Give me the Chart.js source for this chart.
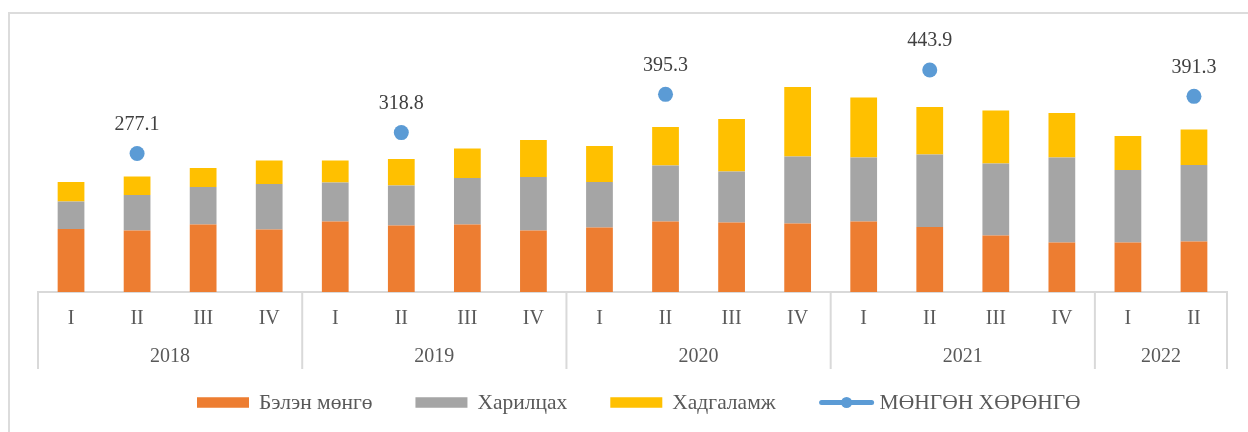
<!DOCTYPE html>
<html>
<head>
<meta charset="utf-8">
<script src="https://cdn.jsdelivr.net/npm/chart.js@4.4.0/dist/chart.umd.min.js"></script>
<style>
  html, body { margin: 0; padding: 0; background: #fff; }
  #wrap { position: relative; width: 1248px; height: 432px; overflow: hidden; }
  #frame { position: absolute; left: 8px; top: 12px; right: -4px; bottom: -4px;
           border-left: 2px solid #dcdcdc; border-top: 2px solid #dcdcdc; }
  canvas { position: absolute; left: 0; top: 0; }
</style>
</head>
<body>
<div id="wrap">
  <div id="frame"></div>
  <canvas id="chart" width="1248" height="432"></canvas>
</div>
<script>
// quarters, grouped by year
var quarters = ['I','II','III','IV', 'I','II','III','IV', 'I','II','III','IV', 'I','II','III','IV', 'I','II'];
var years = ['2018', '2019', '2020', '2021', '2022'];
var yearSpan = [4, 4, 4, 4, 2];

// values
var cash     = [126, 123, 135, 125, 141, 133, 135, 123, 129, 141, 139, 137, 141, 130, 113,  99,  99, 101];
var current  = [ 55,  71,  75,  91,  78,  80,  93, 107,  91, 112, 102, 134, 128, 145, 144, 170, 145, 153];
var savings  = [ 39,  37,  38,  47,  44,  53,  59,  74,  72,  77, 105, 139, 120,  95, 106,  89,  68,  71];
var moneySupply = [null, 277.1, null, null, null, 318.8, null, null, null, 395.3, null, null, null, 443.9, null, null, null, 391.3];

var seriesNames = ['Бэлэн мөнгө', 'Харилцах', 'Хадгаламж', 'МӨНГӨН ХӨРӨНГӨ'];

var FONT = '"Liberation Serif", "Times New Roman", serif';
var TEXT = '#595959';
var LINE = '#d9d9d9';

// year row + group separators under the quarter labels
var yearGroups = {
  id: 'yearGroups',
  afterDraw: function(chart) {
    var x = chart.scales.x, ctx = chart.ctx;
    var top = chart.chartArea.bottom;
    var half = (x.getPixelForValue(1) - x.getPixelForValue(0)) / 2;
    ctx.save();
    ctx.strokeStyle = LINE;
    ctx.lineWidth = 2;
    ctx.fillStyle = TEXT;
    ctx.font = '20px ' + FONT;
    ctx.textAlign = 'center';
    ctx.textBaseline = 'middle';
    var i = 0;
    years.forEach(function(y, k) {
      var l = x.getPixelForValue(i) - half;
      var r = x.getPixelForValue(i + yearSpan[k] - 1) + half;
      ctx.beginPath();
      ctx.moveTo(l, top); ctx.lineTo(l, 369);
      if (k === years.length - 1) { ctx.moveTo(r, top); ctx.lineTo(r, 369); }
      ctx.stroke();
      ctx.fillText(y, (l + r) / 2, 357);
      i += yearSpan[k];
    });
    ctx.restore();
  }
};

// value labels above the blue points
var pointLabels = {
  id: 'pointLabels',
  afterDatasetsDraw: function(chart) {
    var ctx = chart.ctx;
    var meta = chart.getDatasetMeta(3);
    ctx.save();
    ctx.fillStyle = '#404040';
    ctx.font = '20px ' + FONT;
    ctx.textAlign = 'center';
    ctx.textBaseline = 'middle';
    meta.data.forEach(function(pt, i) {
      var v = moneySupply[i];
      if (v === null) return;
      ctx.fillText(v.toFixed(1), pt.x, pt.y - 29);
    });
    ctx.restore();
  }
};

// legend drawn along the bottom
var bottomLegend = {
  id: 'bottomLegend',
  afterDraw: function(chart) {
    var ctx = chart.ctx;
    var cy = 402.5;
    var x = 197;
    ctx.save();
    ctx.font = '21.5px ' + FONT;
    ctx.textBaseline = 'middle';
    ctx.textAlign = 'left';
    chart.data.datasets.forEach(function(ds, k) {
      if (ds.type === 'line') {
        ctx.strokeStyle = ds.borderColor;
        ctx.lineWidth = 5;
        ctx.lineCap = 'round';
        ctx.beginPath();
        ctx.moveTo(x + 3, cy); ctx.lineTo(x + 53, cy);
        ctx.stroke();
        ctx.fillStyle = ds.backgroundColor;
        ctx.beginPath();
        ctx.arc(x + 28, cy, 5.5, 0, Math.PI * 2);
        ctx.fill();
        x += 56 + 5;
      } else {
        ctx.fillStyle = ds.backgroundColor;
        ctx.fillRect(x, cy - 5.25, 52, 10.5);
        x += 52 + 10;
      }
      ctx.fillStyle = TEXT;
      ctx.fillText(ds.label, x, cy + 1);
      x += ctx.measureText(ds.label).width + 43;
    });
    ctx.restore();
  }
};

var ctx = document.getElementById('chart');
var chart = new Chart(ctx, {
  data: {
    labels: quarters,
    datasets: [
      { type: 'bar', label: seriesNames[0], data: cash,    backgroundColor: '#ED7D31', stack: 'money' },
      { type: 'bar', label: seriesNames[1], data: current, backgroundColor: '#A5A5A5', stack: 'money' },
      { type: 'bar', label: seriesNames[2], data: savings, backgroundColor: '#FFC000', stack: 'money' },
      {
        type: 'line', label: seriesNames[3], data: moneySupply, stack: 'total',
        borderColor: '#5B9BD5', backgroundColor: '#5B9BD5',
        showLine: false, pointRadius: 7.5, pointHoverRadius: 7.5, pointBorderWidth: 0
      }
    ]
  },
  options: {
    responsive: false,
    animation: false,
    layout: { padding: { left: 38, right: 21, top: 12, bottom: 0 } },
    datasets: { bar: { categoryPercentage: 0.5, barPercentage: 0.81 } },
    plugins: { legend: { display: false }, tooltip: { enabled: false } },
    scales: {
      x: {
        stacked: true,
        grid: { display: false, drawTicks: false },
        border: { display: true, color: LINE, width: 2 },
        ticks: { color: TEXT, font: { family: FONT, size: 20 }, padding: 15, maxRotation: 0, autoSkip: false },
        afterFit: function(scale) { scale.height = 140; }
      },
      y: {
        display: false,
        stacked: true,
        min: 0,
        max: 560
      }
    }
  },
  plugins: [yearGroups, pointLabels, bottomLegend]
});
</script>
</body>
</html>
